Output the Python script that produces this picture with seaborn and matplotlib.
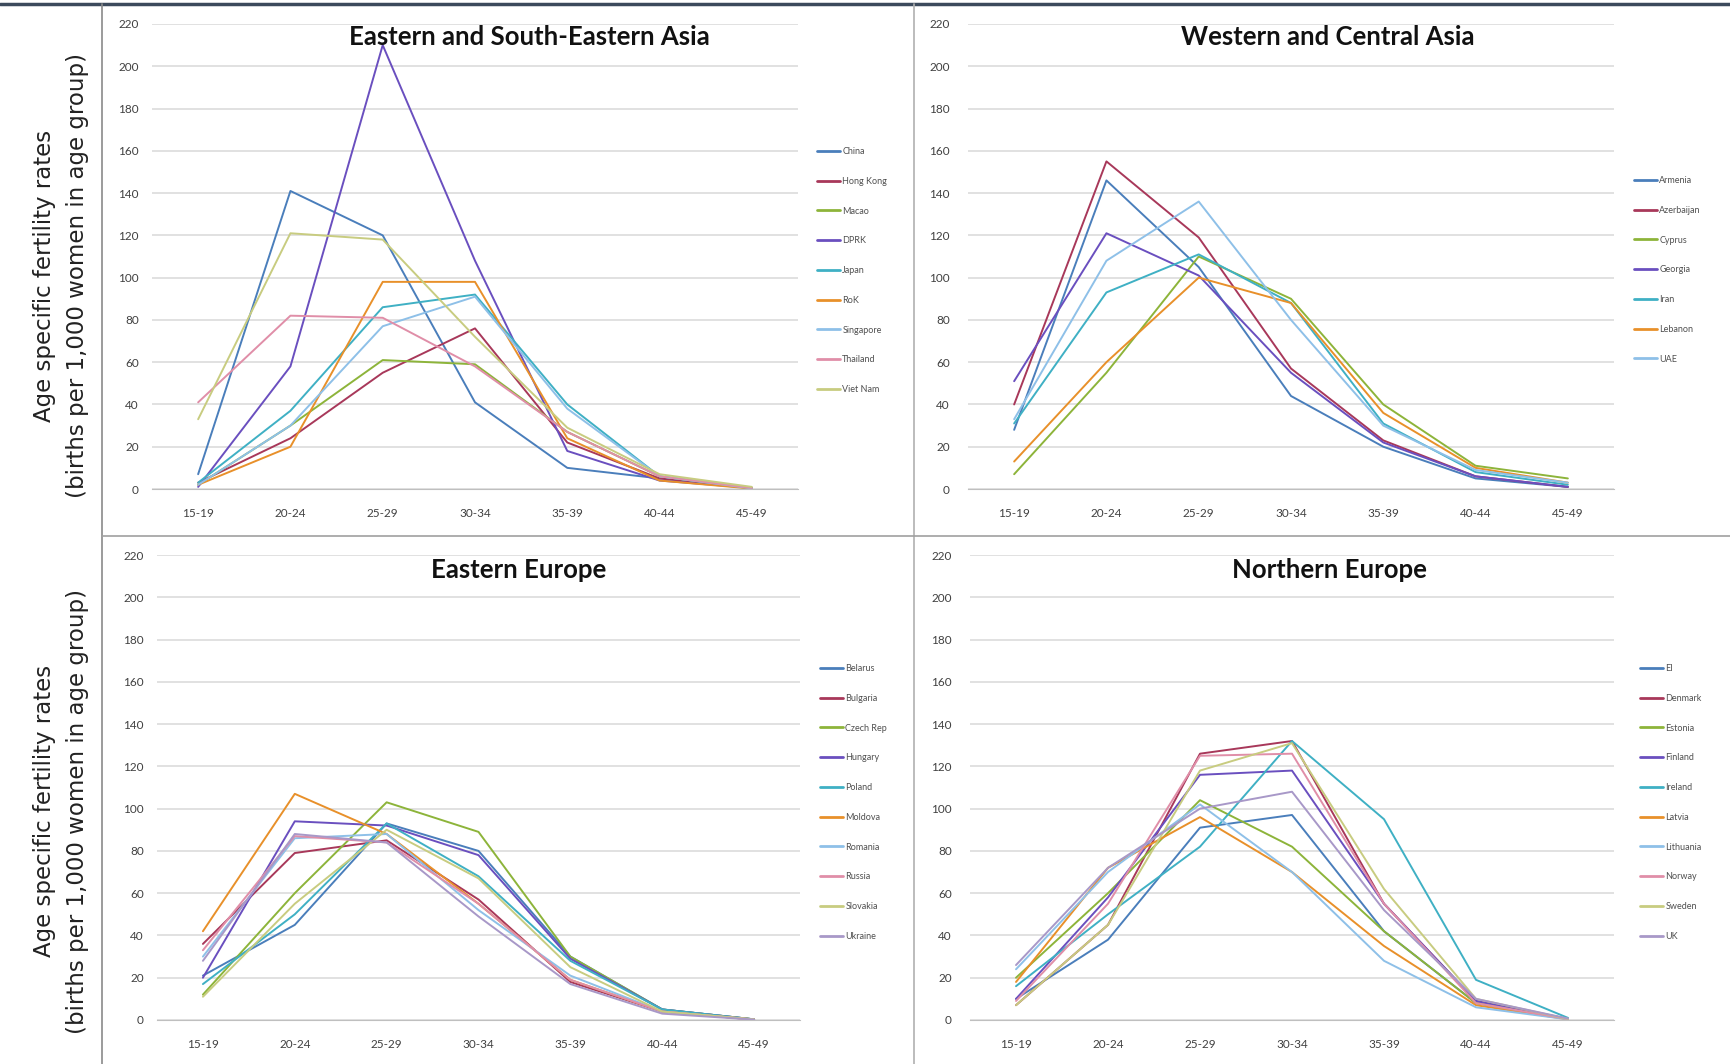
import numpy as np
import pandas as pd
import matplotlib
matplotlib.use("Agg")
import matplotlib.pyplot as plt
import seaborn as sns
from matplotlib.lines import Line2D

# ---------------- data ----------------
ages = ['15-19', '20-24', '25-29', '30-34', '35-39', '40-44', '45-49']
y_ticks = list(range(0, 221, 20))

esea_title = 'Eastern and South-Eastern Asia'
esea_countries = ['China', 'Hong Kong', 'Macao', 'DPRK', 'Japan', 'RoK',
                  'Singapore', 'Thailand', 'Viet Nam']
esea_values = [
    [7, 141, 120, 41, 10, 5, 0.5],
    [3, 24, 55, 76, 22, 5, 0.5],
    [2, 30, 61, 59, 27, 6, 0.5],
    [1, 58, 210, 108, 18, 4, 0.5],
    [3, 37, 86, 92, 40, 6, 0.3],
    [2, 20, 98, 98, 24, 4, 0.2],
    [2, 30, 77, 91, 38, 6, 0.3],
    [41, 82, 81, 58, 27, 6, 0.5],
    [33, 121, 118, 72, 29, 7, 1],
]

wca_title = 'Western and Central Asia'
wca_countries = ['Armenia', 'Azerbaijan', 'Cyprus', 'Georgia', 'Iran',
                 'Lebanon', 'UAE']
wca_values = [
    [28, 146, 105, 44, 20, 5, 1],
    [40, 155, 119, 57, 23, 6, 1],
    [7, 55, 110, 90, 40, 11, 5],
    [51, 121, 101, 55, 22, 6, 1],
    [31, 93, 111, 88, 31, 8, 2],
    [13, 60, 100, 88, 36, 10, 3],
    [33, 108, 136, 80, 30, 9, 3],
]

ee_title = 'Eastern Europe'
ee_countries = ['Belarus', 'Bulgaria', 'Czech Rep', 'Hungary', 'Poland',
                'Moldova', 'Romania', 'Russia', 'Slovakia', 'Ukraine']
ee_values = [
    [21, 45, 93, 80, 30, 5, 0.3],
    [36, 79, 85, 57, 18, 4, 0.2],
    [12, 60, 103, 89, 30, 5, 0.3],
    [20, 94, 92, 78, 29, 5, 0.3],
    [17, 50, 93, 68, 28, 5, 0.3],
    [42, 107, 88, 55, 19, 4, 0.3],
    [30, 86, 88, 52, 21, 4, 0.2],
    [33, 87, 84, 55, 19, 4, 0.2],
    [11, 55, 90, 67, 25, 4, 0.3],
    [28, 88, 84, 49, 17, 3, 0.2],
]

ne_title = 'Northern Europe'
ne_countries = ['EI', 'Denmark', 'Estonia', 'Finland', 'Ireland', 'Latvia',
                'Lithuania', 'Norway', 'Sweden', 'UK']
ne_values = [
    [10, 38, 91, 97, 42, 8, 0.5],
    [7, 45, 126, 132, 55, 9, 0.5],
    [20, 60, 104, 82, 42, 8, 0.5],
    [10, 58, 116, 118, 55, 9, 0.5],
    [16, 50, 82, 132, 95, 19, 1],
    [18, 72, 96, 70, 35, 7, 0.3],
    [24, 70, 102, 70, 28, 6, 0.3],
    [9, 55, 125, 126, 55, 8, 0.4],
    [7, 45, 118, 131, 62, 10, 0.5],
    [26, 72, 100, 108, 52, 10, 0.7],
]

ylabel_line1 = 'Age specific fertility rates'
ylabel_line2 = '(births per 1,000 women in age group)'

palette = ['#4A7EBB', '#A8385A', '#8DB43A', '#6A4FBF', '#3FB0C4',
           '#E8902A', '#8EC0E8', '#E08EA8', '#C8CC80', '#A898C8']

# ---------------- style ----------------
sns.set_style('white')
plt.rcParams['font.family'] = ['Lato', 'DejaVu Sans']

W, H = 1731, 1064
fig = plt.figure(figsize=(W / 100, H / 100), dpi=100)


def add_ax(x0, x1, y0, y1):
    return fig.add_axes([x0 / W, 1 - y1 / H, (x1 - x0) / W, (y1 - y0) / H])


panels = [
    (esea_title, esea_countries, esea_values, (152, 798, 24, 489), (529, 37), (817, 147), 9.5),
    (wca_title, wca_countries, wca_values, (968, 1614, 24, 489), (1328, 37), (1634, 176), 13),
    (ee_title, ee_countries, ee_values, (157, 800, 555, 1020), (519, 570), (820, 664), 9.5),
    (ne_title, ne_countries, ne_values, (970, 1614, 555, 1020), (1329, 570), (1640, 664), 13),
]

for title, names, vals, box, tpos, lpos, ypad in panels:
    ax = add_ax(*box)
    df = pd.DataFrame({
        'age': ages * len(names),
        'rate': np.concatenate([np.asarray(v, dtype=float) for v in vals]),
        'country': np.repeat(names, len(ages)),
    })
    sns.lineplot(data=df, x='age', y='rate', hue='country', hue_order=names,
                 palette=palette[:len(names)], sort=False, lw=1.4, ax=ax)
    ax.set_xlim(-0.5, 6.5)
    ax.set_ylim(0, 220)
    ax.set_yticks(y_ticks)
    ax.set_xlabel('')
    ax.set_ylabel('')
    ax.yaxis.grid(True, color='#d9d9d9', lw=1.1)
    ax.xaxis.grid(False)
    ax.set_axisbelow(True)
    for s in ['top', 'right', 'left']:
        ax.spines[s].set_visible(False)
    ax.spines['bottom'].set_color('#bfbfbf')
    ax.tick_params(axis='y', length=0, pad=ypad, labelsize=8.5, labelcolor='#404040')
    ax.tick_params(axis='x', length=0, pad=14, labelsize=8.5, labelcolor='#404040')

    # legend
    x0, x1, y0, y1 = box
    lx = (lpos[0] - x0) / (x1 - x0)
    ly = (y1 - lpos[1]) / (y1 - y0)
    leg = ax.legend(loc='upper left', bbox_to_anchor=(lx, ly), frameon=False,
                    fontsize=6.5, handlelength=2.6, handletextpad=0.2,
                    labelspacing=2.3, borderaxespad=0, borderpad=0)
    for t in leg.get_texts():
        t.set_color('#505050')
    for h in leg.get_lines():
        h.set_linewidth(2.0)

    fig.text(tpos[0] / W, 1 - tpos[1] / H, title, ha='center', va='center',
             fontsize=18.5, fontweight='bold', color='#111111')

# y labels (one per row)
for yc in (276, 811):
    fig.text(45 / W, 1 - yc / H, ylabel_line1, rotation=90, ha='center',
             va='center', fontsize=16.5, family='DejaVu Sans', color='#222222')
    fig.text(78 / W, 1 - yc / H, ylabel_line2, rotation=90, ha='center',
             va='center', fontsize=16.5, family='DejaVu Sans', color='#222222')

# chart-object frames
frame_lines = [
    ((0, W), (4, 4), '#3c4a5c', 2.5),
    ((102, 102), (4, H), '#8a8a8a', 1.2),
    ((914, 914), (4, H), '#b0b0b0', 1.2),
    ((102, W), (536, 536), '#a0a0a0', 1.2),
]
for xs, ys, c, lw in frame_lines:
    fig.add_artist(Line2D([xs[0] / W, xs[1] / W], [1 - ys[0] / H, 1 - ys[1] / H],
                          transform=fig.transFigure, color=c, lw=lw))

fig.savefig('out.png', dpi=100)
